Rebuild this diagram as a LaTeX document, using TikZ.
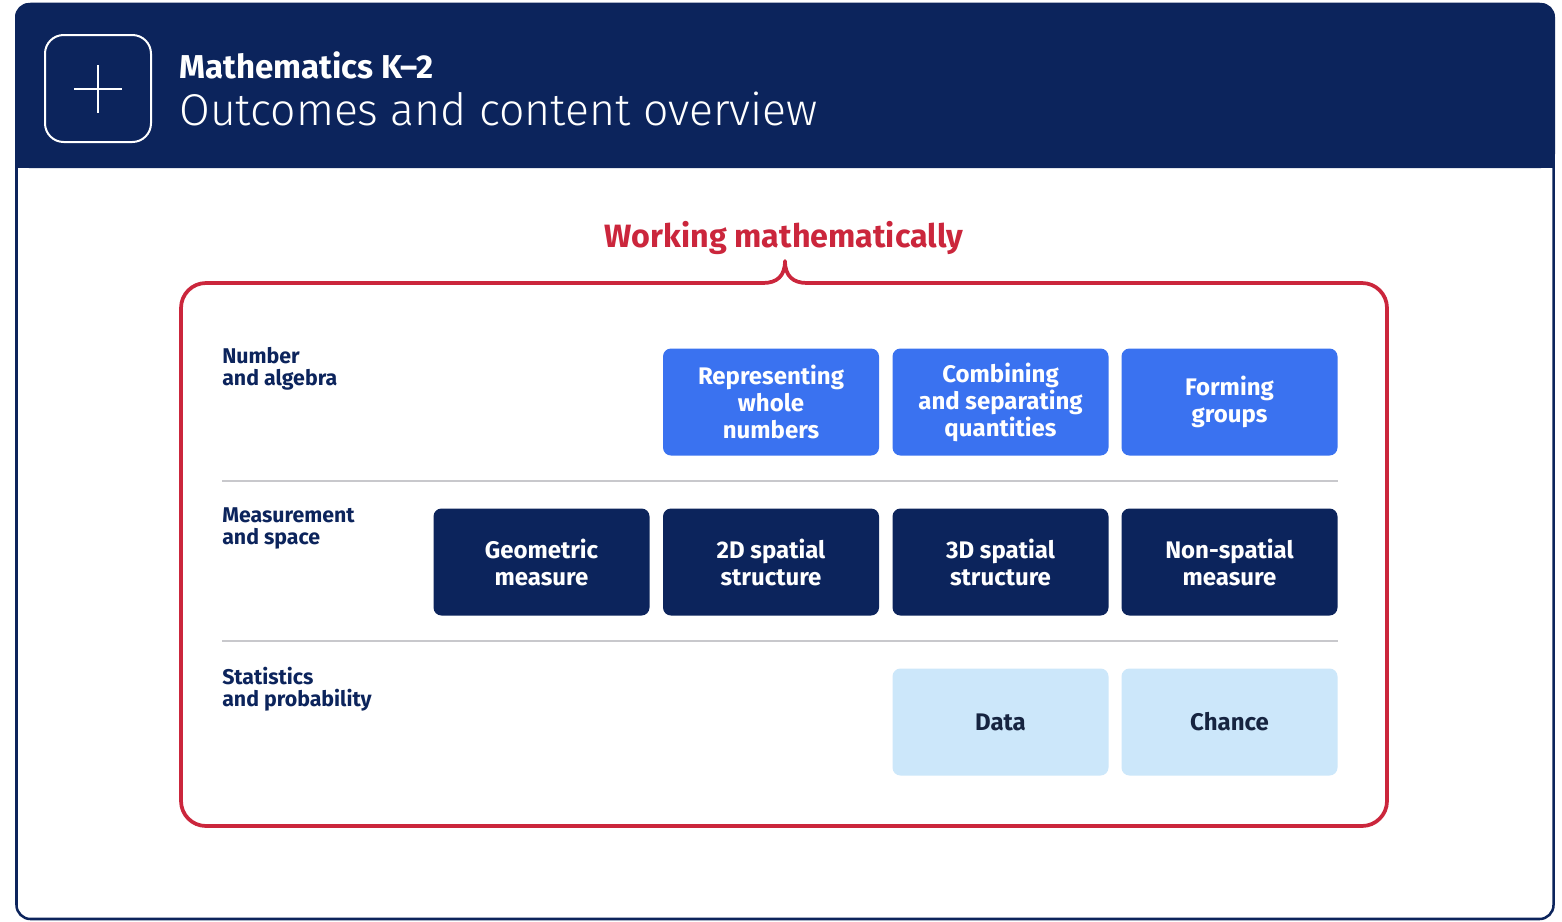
\documentclass[tikz,border=0pt]{standalone}
\usepackage{fontspec}
\setmainfont{Fira Sans}
\newfontfamily\lightfont{Fira Sans Light}
\definecolor{navy}{RGB}{12,36,92}
\definecolor{nablue}{RGB}{58,114,240}
\definecolor{splight}{RGB}{204,231,250}
\definecolor{sptext}{RGB}{22,36,64}
\definecolor{wmred}{RGB}{203,38,60}
\definecolor{sepgray}{RGB}{200,200,204}

\begin{document}
\begin{tikzpicture}[x=0.75pt,y=0.75pt,yscale=-1,xscale=1,
  strandbox/.style={rounded corners=6pt, minimum width=162pt, minimum height=80.25pt, inner sep=0pt, align=center, font=\fontsize{18}{20.25}\selectfont\bfseries},
  nabox/.style={strandbox, fill=nablue, text=white},
  msbox/.style={strandbox, fill=navy, text=white},
  spbox/.style={strandbox, fill=splight, text=sptext},
  rowlabel/.style={anchor=north west, inner sep=0pt, align=left, text=navy, font=\fontsize{16}{16.5}\selectfont\bfseries},
  wmline/.style={wmred, line width=2.8pt}]
\path[use as bounding box, fill=white] (0,0) rectangle (1562,921); %set diagram size 1562 x 921

%Shape: Outer frame
\draw[navy, line width=1.9pt, rounded corners=10.5pt] (16.5,4) rectangle (1553.5,919) ;
%Shape: Header band
\fill[navy, rounded corners=10.5pt] (15,3) rectangle (1555,168) ;
\fill[navy] (15,130) rectangle (1555,168) ;
%Shape: Plus icon
\draw[white, line width=1.5pt, rounded corners=14pt] (45,35) rectangle (151,142) ;
\draw[white, line width=1.3pt] (74,89) -- (122,89) (98,65) -- (98,113) ;

% Text Node
\node (title) [anchor=base west, inner sep=0pt, text=white, font=\fontsize{24.8}{28}\selectfont\bfseries] at (179,78) {Mathematics K–2};
% Text Node
\node (subtitle) [anchor=base west, inner sep=0pt, text=white, font=\fontsize{33.4}{40}\selectfont\lightfont] at (179,125) {Outcomes and content overview};

%Shape: Working mathematically frame
\draw[wmline, rounded corners=18.75pt] (764,283) -- (181,283) -- (181,826) -- (1387,826) -- (1387,283) -- (806,283) ;
%Shape: Working mathematically peak
\draw[wmline, line cap=round, line join=round] (763,283) .. controls (777,283) and (785,276) .. (785,261) .. controls (785,276) and (793,283) .. (807,283) ;
% Text Node
\node (wm) [anchor=base, inner sep=0pt, text=wmred, font=\fontsize{24.2}{28}\selectfont\bfseries] at (784,247) {Working mathematically};

%Straight Lines: row separators
\draw[sepgray, line width=1.1pt] (222,481) -- (1338,481) (222,641) -- (1338,641) ;

% Text Node: row labels
\node (na) [rowlabel] at (222,347) {Number\\and algebra};
\node (ms) [rowlabel] at (222,507) {Measurement\\and space};
\node (sp) [rowlabel] at (222,667) {Statistics\\and probability};

%Shape: Number and algebra strands
\node (rwn) [nabox] at (771,402) {Representing\\whole\\numbers};
\node (csq) [nabox] at (1000.5,402) {Combining\\and separating\\quantities};
\node (fg) [nabox] at (1229.5,402) {Forming\\groups};
%Shape: Measurement and space strands
\node (gm) [msbox] at (541.5,562) {Geometric\\measure};
\node (tds) [msbox] at (771,562) {2D spatial\\structure};
\node (ths) [msbox] at (1000.5,562) {3D spatial\\structure};
\node (nsm) [msbox] at (1229.5,562) {Non-spatial\\measure};
%Shape: Statistics and probability strands
\node (data) [spbox] at (1000.5,722) {Data};
\node (chance) [spbox] at (1229.5,722) {Chance};

\end{tikzpicture}
\end{document}
